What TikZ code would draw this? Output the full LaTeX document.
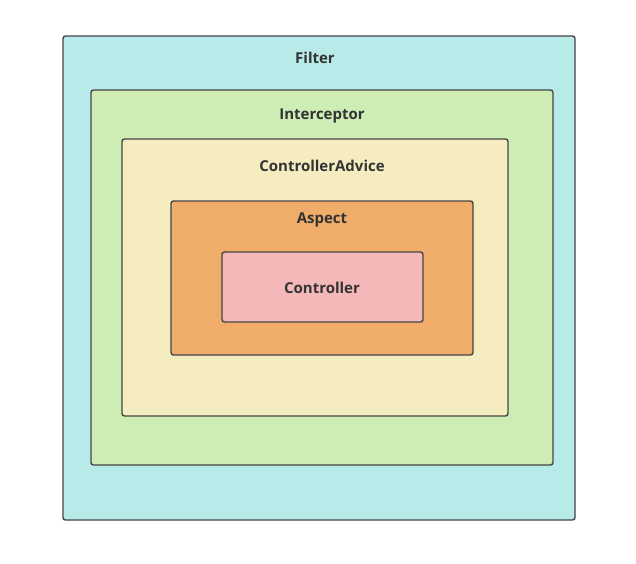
\documentclass[tikz,border=0pt]{standalone}
\usepackage{fontspec}
\setmainfont{Open Sans}
\definecolor{cfilter}{HTML}{B8EAEA}
\definecolor{cinter}{HTML}{CDEDB5}
\definecolor{cadvice}{HTML}{F5ECC0}
\definecolor{caspect}{HTML}{F0AD6A}
\definecolor{cctrl}{HTML}{F5B8B8}
\definecolor{cborder}{HTML}{454545}
\definecolor{ctext}{HTML}{333333}
\begin{document}
\begin{tikzpicture}[x=1pt,y=-1pt,
  layer/.style={draw=cborder,line width=1.4pt,rounded corners=2.5pt},
  lbl/.style={text=ctext,font=\fontsize{15}{18}\selectfont\bfseries,inner sep=0pt}]
\useasboundingbox (0,0) rectangle (636,563);
\fill[white] (0,0) rectangle (636,563);
\draw[layer,fill=cfilter] (63,36) rectangle (575,520);
\node[lbl] (filter) at (315,58) {Filter};
\draw[layer,fill=cinter] (91,90) rectangle (553,465);
\node[lbl] (inter) at (322,115.5) {Interceptor};
\draw[layer,fill=cadvice] (122,139) rectangle (508,416);
\node[lbl] (advice) at (322,165.5) {ControllerAdvice};
\draw[layer,fill=caspect] (171,201) rectangle (473,355);
\node[lbl] (aspect) at (322,219.5) {Aspect};
\draw[layer,fill=cctrl] (222,252) rectangle (423,322);
\node[lbl] (ctrl) at (322,288) {Controller};
\end{tikzpicture}
\end{document}
